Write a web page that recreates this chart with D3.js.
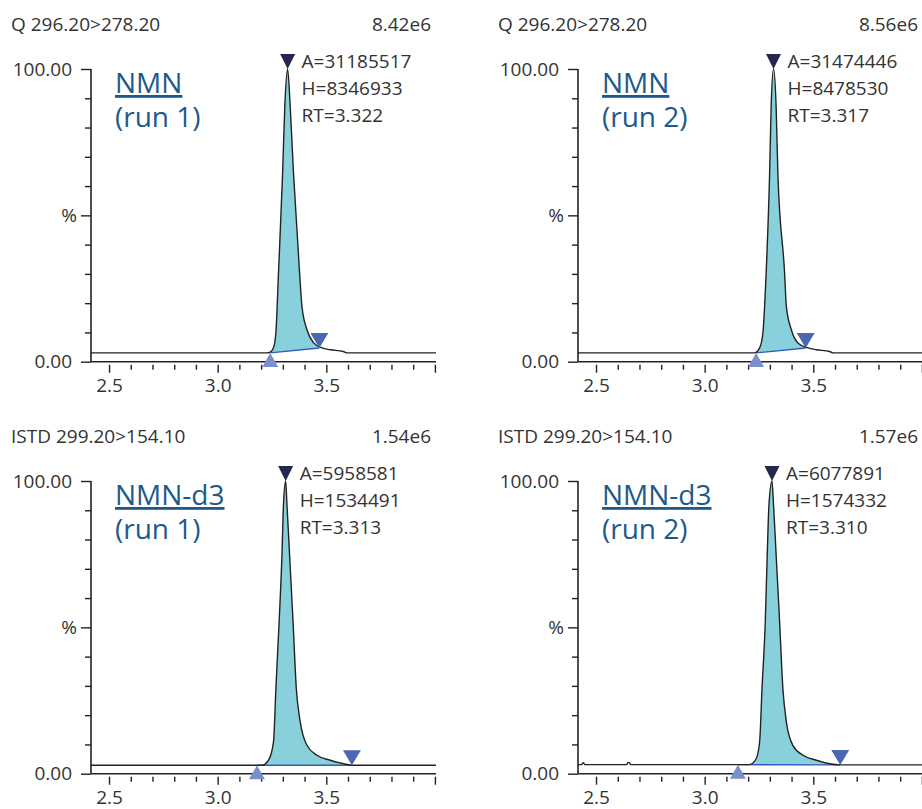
<!DOCTYPE html>
<html>
<head>
<meta charset="utf-8">
<script src="https://d3js.org/d3.v7.min.js"></script>
<style>
	body { margin: 0; background: #fff; }
	svg { display: block; font-family: "Open Sans", sans-serif; }
	.axis text { font-family: "Open Sans", sans-serif; font-size: 19px; fill: #333; }
	.axis line { stroke: #222; stroke-width: 1.4; }
</style>
</head>
<body>
<div id="graph"></div>
<script>
// chromatogram panels: [top-left, top-right, bottom-left, bottom-right]
var panelTitles = ["Q 296.20>278.20", "Q 296.20>278.20", "ISTD 299.20>154.10", "ISTD 299.20>154.10"];
var panelMaxima = ["8.42e6", "8.56e6", "1.54e6", "1.57e6"];
var compoundNames = ["NMN", "NMN", "NMN-d3", "NMN-d3"];
var runLabels = ["(run 1)", "(run 2)", "(run 1)", "(run 2)"];
var peakAreas = [31185517, 31474446, 5958581, 6077891];
var peakHeights = [8346933, 8478530, 1534491, 1574332];
var retentionTimes = ["3.322", "3.317", "3.313", "3.310"];

// integration limits (time, % level)
var peakStartTimes = [3.242, 3.237, 3.181, 3.153];
var peakStartLevels = [3.0, 3.0, 2.9, 3.1];
var peakEndTimes = [3.468, 3.465, 3.618, 3.624];
var peakEndLevels = [4.7, 4.7, 2.9, 3.0];

// x axis ticks
var majorTicks = [2.5, 3.0, 3.5, 4.0];
var majorTickLabels = ["2.5", "3.0", "3.5", ""];
var minorTicks = [2.6, 2.7, 2.8, 2.9, 3.1, 3.2, 3.3, 3.4, 3.6, 3.7, 3.8, 3.9];
var yMajorTicks = [0, 50, 100];
var yMajorLabels = ["0.00", "%", "100.00"];
var yMinorTicks = [10, 20, 30, 40, 60, 70, 80, 90];

// traces, [time (min), relative intensity %]
var traceRun1 = [
	[2.417, 3.0], [3.227, 3.0], [3.242, 3.3], [3.257, 4.8], [3.268, 9.9], [3.280, 30.4],
	[3.299, 64.5], [3.309, 87.1], [3.322, 100], [3.334, 87.1], [3.349, 64.5], [3.377, 30.4],
	[3.388, 18.9], [3.411, 10.9], [3.441, 6.5], [3.480, 4.7], [3.518, 4.1], [3.578, 3.5],
	[3.595, 3.0], [4.005, 3.0]
];
var traceRun2 = [
	[2.417, 3.0], [3.229, 3.0], [3.253, 4.7], [3.268, 9.8], [3.283, 30.3], [3.299, 64.4],
	[3.306, 87.0], [3.317, 100], [3.329, 87.1], [3.337, 64.4], [3.368, 30.3], [3.376, 18.9],
	[3.399, 10.9], [3.429, 6.4], [3.476, 4.7], [3.514, 4.1], [3.575, 3.5], [3.591, 3.0],
	[4.005, 3.0]
];
var traceIstdRun1 = [
	[2.417, 2.9], [3.204, 2.9], [3.234, 4.6], [3.257, 10.9], [3.268, 29.1], [3.283, 51.9],
	[3.296, 74.8], [3.303, 91.9], [3.313, 100], [3.319, 91.9], [3.331, 74.8], [3.347, 51.9],
	[3.362, 29.1], [3.380, 17.7], [3.411, 9.7], [3.457, 6.3], [3.518, 4.6], [3.580, 3.4],
	[3.618, 2.9], [4.005, 2.9]
];
var traceIstdRun2 = [
	[2.417, 3.1], [2.433, 3.1], [2.441, 3.8], [2.449, 3.1], [2.642, 3.1], [2.645, 3.8],
	[2.655, 3.8], [2.658, 3.1], [3.206, 3.1], [3.237, 5.1], [3.253, 10.9], [3.264, 29.1],
	[3.279, 51.9], [3.288, 74.8], [3.296, 91.9], [3.310, 100], [3.317, 91.9], [3.329, 74.8],
	[3.345, 51.9], [3.360, 29.1], [3.376, 17.7], [3.406, 9.7], [3.453, 6.3], [3.514, 4.6],
	[3.575, 3.4], [3.624, 3.0], [4.005, 3.0]
];
var traces = [traceRun1, traceRun2, traceIstdRun1, traceIstdRun2];

var width = 922;
var height = 809;
var colStep = 487;
var rowStep = 412;

var svg = d3.select("#graph")
	.append("svg")
	.attr("width", width)
	.attr("height", height);

traces.forEach(function (trace, i) {
	var col = i % 2;
	var row = Math.floor(i / 2);
	var dx = col * colStep;
	var dy = row * rowStep;

	var x = d3.scaleLinear().domain([2.417, 4.005]).range([91 + dx, 436 + dx]);
	var y = d3.scaleLinear().domain([0, 100]).range([361.7 + dy, 69 + dy]);

	var g = svg.append("g");

	// header
	g.append("text")
		.attr("x", 11 + dx)
		.attr("y", 31 + dy)
		.attr("font-size", 19)
		.attr("fill", "#333")
		.text(panelTitles[i]);
	g.append("text")
		.attr("x", 431 + dx)
		.attr("y", 31 + dy)
		.attr("font-size", 19)
		.attr("fill", "#333")
		.attr("text-anchor", "end")
		.text(panelMaxima[i]);

	// integrated peak area
	var ts = peakStartTimes[i], te = peakEndTimes[i];
	var base = d3.scaleLinear().domain([ts, te]).range([peakStartLevels[i], peakEndLevels[i]]);
	var peakPts = [[ts, peakStartLevels[i]]]
		.concat(trace.filter(function (d) { return d[0] > ts && d[0] < te; }))
		.concat([[te, peakEndLevels[i]]]);

	g.append("path")
		.datum(peakPts)
		.attr("fill", "#88d1dc")
		.attr("d", d3.area()
			.curve(d3.curveMonotoneX)
			.x(function (d) { return x(d[0]); })
			.y0(function (d) { return y(base(d[0])); })
			.y1(function (d) { return y(Math.max(d[1], base(d[0]))); }));

	g.append("line")
		.attr("x1", x(ts)).attr("y1", y(peakStartLevels[i]))
		.attr("x2", x(te)).attr("y2", y(peakEndLevels[i]))
		.attr("stroke", "#2f5fb5")
		.attr("stroke-width", 1.4);

	// trace
	g.append("path")
		.datum(trace)
		.attr("fill", "none")
		.attr("stroke", "#222")
		.attr("stroke-width", 1.4)
		.attr("stroke-linejoin", "round")
		.attr("d", d3.line()
			.curve(d3.curveMonotoneX)
			.x(function (d) { return x(d[0]); })
			.y(function (d) { return y(d[1]); }));

	// y axis
	g.append("line")
		.attr("x1", x.range()[0]).attr("x2", x.range()[0])
		.attr("y1", y(0)).attr("y2", y(100))
		.attr("stroke", "#222").attr("stroke-width", 1.6);

	g.append("g")
		.attr("class", "axis")
		.attr("transform", "translate(" + x.range()[0] + ",0)")
		.call(d3.axisLeft(y).tickValues(yMinorTicks).tickSize(6).tickFormat(""))
		.call(function (a) { a.select(".domain").remove(); });

	var yMaj = g.append("g")
		.attr("class", "axis")
		.attr("transform", "translate(" + x.range()[0] + ",0)")
		.call(d3.axisLeft(y).tickValues(yMajorTicks).tickSize(10).tickPadding(9)
			.tickFormat(function (d, k) { return yMajorLabels[k]; }))
		.call(function (a) { a.select(".domain").remove(); });
	yMaj.selectAll("text")
		.filter(function (d) { return d === 50; })
		.attr("x", -14);

	// x axis
	g.append("line")
		.attr("x1", x.range()[0]).attr("x2", x.range()[1])
		.attr("y1", y(0)).attr("y2", y(0))
		.attr("stroke", "#222").attr("stroke-width", 1.6);

	g.append("g")
		.attr("class", "axis")
		.attr("transform", "translate(0," + (y(0) + 3) + ")")
		.call(d3.axisBottom(x).tickValues(minorTicks).tickSize(5).tickFormat(""))
		.call(function (a) { a.select(".domain").remove(); });

	g.append("g")
		.attr("class", "axis")
		.attr("transform", "translate(0," + (y(0) + 3) + ")")
		.call(d3.axisBottom(x).tickValues(majorTicks).tickSize(8).tickPadding(6)
			.tickFormat(function (d, k) { return majorTickLabels[k]; }))
		.call(function (a) { a.select(".domain").remove(); });

	// compound label, one text with two lines
	var label = g.append("text")
		.attr("x", 115 + dx)
		.attr("y", y(100) + 24)
		.attr("font-size", 28)
		.attr("fill", "#1d5a8b");
	label.append("tspan")
		.attr("x", 115 + dx)
		.attr("text-decoration", "underline")
		.text(compoundNames[i]);
	label.append("tspan")
		.attr("x", 115 + dx)
		.attr("dy", 34)
		.text(runLabels[i]);

	// peak annotation
	var rt = +retentionTimes[i];
	var ann = ["A=" + peakAreas[i], "H=" + peakHeights[i], "RT=" + retentionTimes[i]];
	g.selectAll(".ann")
		.data(ann)
		.enter()
		.append("text")
		.attr("x", x(rt) + 14)
		.attr("y", function (d, k) { return y(100) - 1 + k * 27; })
		.attr("font-size", 19)
		.attr("fill", "#333")
		.text(function (d) { return d; });

	// markers
	var ax = x(rt), ay = y(100);
	g.append("path")
		.attr("d", "M" + (ax - 7.5) + "," + (ay - 15) + "L" + (ax + 7.5) + "," + (ay - 15) + "L" + ax + "," + ay + "Z")
		.attr("fill", "#24264c");

	var sx = x(ts), sy = y(peakStartLevels[i]);
	g.append("path")
		.attr("d", "M" + (sx - 8) + "," + (sy + 14) + "L" + (sx + 8) + "," + (sy + 14) + "L" + sx + "," + sy + "Z")
		.attr("fill", "#7a90cc");

	var ex = x(te), ey = y(peakEndLevels[i]);
	g.append("path")
		.attr("d", "M" + (ex - 9) + "," + (ey - 15) + "L" + (ex + 9) + "," + (ey - 15) + "L" + ex + "," + ey + "Z")
		.attr("fill", "#4a67b4");
});
</script>
</body>
</html>
